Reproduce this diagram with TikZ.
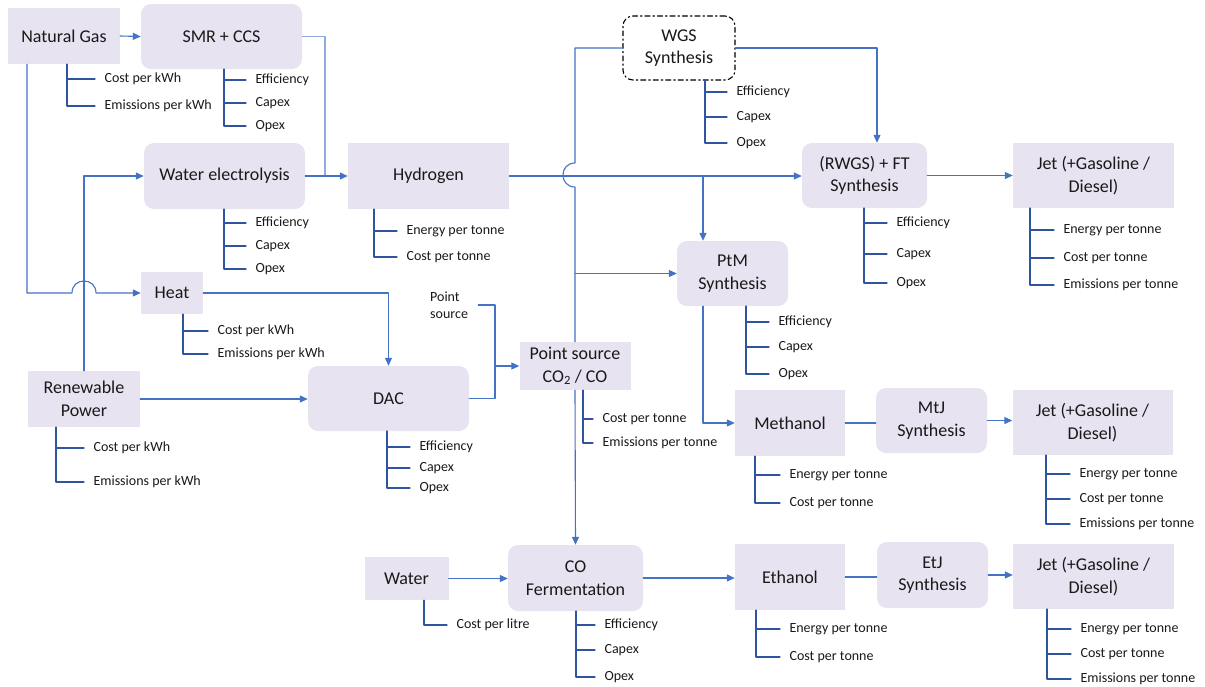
\documentclass[tikz,border=0pt]{standalone}
\usepackage{fontspec}
\setmainfont{Carlito}
\usetikzlibrary{arrows.meta}
\definecolor{boxfill}{RGB}{232,227,240}
\definecolor{linkblue}{RGB}{68,114,196}
\definecolor{propblue}{RGB}{47,85,160}
\definecolor{paleblue}{RGB}{143,170,220}
\tikzset{
  box/.style={fill=boxfill, inner sep=2pt, align=center, text=black!90, font=\fontsize{18}{22.5}\selectfont},
  rbox/.style={box, rounded corners=10pt},
  wgsbox/.style={box, fill=white, draw=black, rounded corners=10pt, line width=1.1pt, dash pattern=on 5pt off 3pt on 1.5pt off 3pt},
  link/.style={draw=linkblue, line width=1.1pt},
  arr/.style={link, -{Triangle[length=8pt,width=7pt]}},
  prop/.style={draw=propblue, line width=1.1pt},
  lbl/.style={anchor=west, inner sep=0pt, xshift=9pt, text=black!90, font=\fontsize{14}{17}\selectfont},
}
\begin{document}
\begin{tikzpicture}[x=1pt, y=-1pt, line cap=round, line join=round]
  \useasboundingbox (0,0) rectangle (1205,686);

  % boxes
  \node[box, minimum width=112pt, minimum height=56pt] (ng) at (64,36) {Natural Gas};
  \node[rbox, minimum width=161pt, minimum height=65pt] (smr) at (221.5,36.5) {SMR + CCS};
  \node[rbox, minimum width=161pt, minimum height=66pt] (we) at (224.5,176) {Water electrolysis};
  \node[box, minimum width=161pt, minimum height=66pt] (h2) at (428.5,176) {Hydrogen};
  \node[box, minimum width=62pt, minimum height=42pt] (heat) at (172,293) {Heat};
  \node[box, minimum width=112pt, minimum height=56pt] (rp) at (84,399) {Renewable\\Power};
  \node[rbox, minimum width=161pt, minimum height=65pt] (dac) at (388.5,398.5) {DAC};
  \node[box, minimum width=111pt, minimum height=48pt] (pco) at (575,366) {Point source\\CO\textsubscript{2} / CO};
  \node[wgsbox, minimum width=112pt, minimum height=64pt] (wgs) at (679,48) {WGS\\Synthesis};
  \node[rbox, minimum width=125pt, minimum height=65pt] (ft) at (864.5,175.5) {(RWGS) + FT\\Synthesis};
  \node[box, minimum width=161pt, minimum height=65pt] (jeta) at (1093.5,175.5) {Jet (+Gasoline /\\Diesel)};
  \node[rbox, minimum width=111pt, minimum height=65pt] (ptm) at (732.5,273.5) {PtM\\Synthesis};
  \node[box, minimum width=110pt, minimum height=66pt] (meoh) at (790,423) {Methanol};
  \node[rbox, minimum width=111pt, minimum height=65pt] (mtj) at (931.5,420.5) {MtJ\\Synthesis};
  \node[box, minimum width=160pt, minimum height=65pt] (jetb) at (1092.5,422.5) {Jet (+Gasoline /\\Diesel)};
  \node[box, minimum width=84pt, minimum height=43pt] (water) at (406.5,578.5) {Water};
  \node[rbox, minimum width=135pt, minimum height=66pt] (cof) at (575.5,578) {CO\\Fermentation};
  \node[box, minimum width=110pt, minimum height=66pt] (etoh) at (790,577) {Ethanol};
  \node[rbox, minimum width=111pt, minimum height=66pt] (etj) at (932.5,575) {EtJ\\Synthesis};
  \node[box, minimum width=161pt, minimum height=65pt] (jetc) at (1093.5,576.5) {Jet (+Gasoline /\\Diesel)};
  \node[lbl, xshift=0pt, align=left] (pstext) at (421,305) {Point\\source};

  % flows
  \draw[arr] (ng.east) -- (smr.west);
  \draw[link, draw=paleblue] (smr.east) -| (325,0 |- h2.west);
  \draw[arr] (we.east) -- (h2.west);
  \draw[arr] (rp.north) |- (we.west);
  \draw[arr] (27,0 |- ng.south) |- (72,293) .. controls (72,277) and (96,277) .. (96,293) -- (heat.west);
  \draw[arr] (heat.east) -| (dac.north);
  \draw[arr] (rp.east) -- (rp.east -| dac.west);
  \draw[link] ([xshift=10pt]pstext.east) -| (495,0 |- dac.east) -- (dac.east);
  \draw[arr] (495,0 |- pco.west) -- (pco.west);
  \draw[link] (pco.north) -- (575,187) .. controls (559,187) and (559,163) .. (575,163) |- (wgs.west);
  \draw[arr] (575,0 |- ptm.west) -- (ptm.west);
  \draw[arr] (pco.south) -- (cof.north);
  \draw[arr] (wgs.east) -| (877,0 |- ft.north);
  \draw[arr] (h2.east) -- (h2.east -| ft.west);
  \draw[arr] (703,0 |- h2.east) -- (703,0 |- ptm.north);
  \draw[arr] (ft.east) -- (ft.east -| jeta.west);
  \draw[arr] (703,0 |- ptm.south) |- (meoh.west);
  \draw[link] (meoh.east) -- (meoh.east -| mtj.west);
  \draw[arr] (mtj.east) -- (mtj.east -| jetb.west);
  \draw[arr] (water.east) -- (water.east -| cof.west);
  \draw[arr] (cof.east) -- (cof.east -| etoh.west);
  \draw[link] (etoh.east) -- (etoh.east -| etj.west);
  \draw[arr] (etj.east) -- (etj.east -| jetc.west);

  % properties
  \foreach \yy/\txt in {79/Cost per kWh, 106/Emissions per kWh}
    \draw[prop] (67,0 |- ng.south) |- (95,\yy) node[lbl] {\txt};
  \foreach \yy/\txt in {80/Efficiency, 103/Capex, 126/Opex}
    \draw[prop] (224,0 |- smr.south) |- (246,\yy) node[lbl] {\txt};
  \foreach \yy/\txt in {223/Efficiency, 246/Capex, 269/Opex}
    \draw[prop] (224,0 |- we.south) |- (246,\yy) node[lbl] {\txt};
  \foreach \yy/\txt in {231/Energy per tonne, 257/Cost per tonne}
    \draw[prop] (374,0 |- h2.south) |- (397,\yy) node[lbl] {\txt};
  \foreach \yy/\txt in {331/Cost per kWh, 354/Emissions per kWh}
    \draw[prop] (183,0 |- heat.south) |- (208,\yy) node[lbl] {\txt};
  \foreach \yy/\txt in {448/Cost per kWh, 482/Emissions per kWh}
    \draw[prop] (56,0 |- rp.south) |- (84,\yy) node[lbl] {\txt};
  \foreach \yy/\txt in {447/Efficiency, 468/Capex, 488/Opex}
    \draw[prop] (387,0 |- dac.south) |- (410,\yy) node[lbl] {\txt};
  \foreach \yy/\txt in {419/Cost per tonne, 443/Emissions per tonne}
    \draw[prop] (583,0 |- pco.south) |- (593,\yy) node[lbl] {\txt};
  \foreach \yy/\txt in {92/Efficiency, 117/Capex, 143/Opex}
    \draw[prop] (705,0 |- wgs.south) |- (727,\yy) node[lbl] {\txt};
  \foreach \yy/\txt in {223/Efficiency, 254/Capex, 283/Opex}
    \draw[prop] (864,0 |- ft.south) |- (887,\yy) node[lbl] {\txt};
  \foreach \yy/\txt in {230/Energy per tonne, 258/Cost per tonne, 285/Emissions per tonne}
    \draw[prop] (1030,0 |- jeta.south) |- (1054,\yy) node[lbl] {\txt};
  \foreach \yy/\txt in {322/Efficiency, 347/Capex, 374/Opex}
    \draw[prop] (746,0 |- ptm.south) |- (769,\yy) node[lbl] {\txt};
  \foreach \yy/\txt in {475/Energy per tonne, 503/Cost per tonne}
    \draw[prop] (755,0 |- meoh.south) |- (780,\yy) node[lbl] {\txt};
  \foreach \yy/\txt in {474/Energy per tonne, 499/Cost per tonne, 524/Emissions per tonne}
    \draw[prop] (1046,0 |- jetb.south) |- (1070,\yy) node[lbl] {\txt};
  \foreach \yy/\txt in {625/Cost per litre}
    \draw[prop] (424,0 |- water.south) |- (447,\yy) node[lbl] {\txt};
  \foreach \yy/\txt in {625/Efficiency, 650/Capex, 677/Opex}
    \draw[prop] (576,0 |- cof.south) |- (595,\yy) node[lbl] {\txt};
  \foreach \yy/\txt in {629/Energy per tonne, 657/Cost per tonne}
    \draw[prop] (756,0 |- etoh.south) |- (780,\yy) node[lbl] {\txt};
  \foreach \yy/\txt in {629/Energy per tonne, 654/Cost per tonne, 679/Emissions per tonne}
    \draw[prop] (1047,0 |- jetc.south) |- (1071,\yy) node[lbl] {\txt};
\end{tikzpicture}
\end{document}
